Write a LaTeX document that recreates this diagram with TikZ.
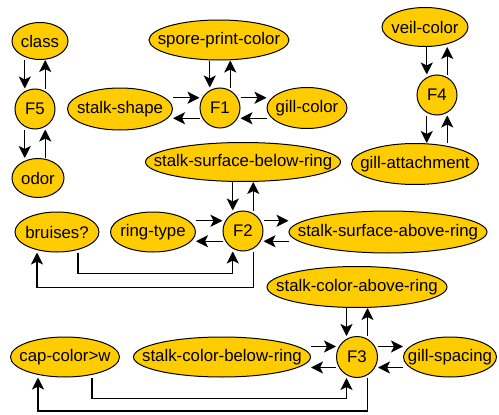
\documentclass[tikz,border=0pt]{standalone}
\usepackage{fontspec}
\setmainfont{Liberation Sans}
\usetikzlibrary{shapes.geometric,arrows.meta}
\definecolor{nodegold}{RGB}{255,204,0}
\tikzset{var node/.style={ellipse,fill=nodegold,draw,line width=1pt,inner sep=0pt,minimum height=40pt,
            execute at begin node={\hbox to 0pt\bgroup\hss},execute at end node={\hss\egroup}},
         factor node/.style={circle,fill=nodegold,draw,line width=1pt,inner sep=0pt,minimum size=40pt},
         link/.style={-{Stealth[length=12pt,width=12pt,inset=3pt]},line width=1.2pt}
}

\begin{document}
\begin{tikzpicture}[x=1pt, y=-1pt,
font=\fontsize{16.8}{19}\selectfont]
\useasboundingbox (0,0) rectangle (499,415);
% variables and factors
\node[var node,minimum width=56pt,minimum height=37pt] (class) at (40,41) {class};
\node[factor node] (F5) at (35,109) {F5};
\node[var node,minimum width=52pt,minimum height=39pt] (odor) at (38,178) {odor};
\node[var node,minimum width=140pt] (spore) at (219,40) {spore-print-color};
\node[var node,minimum width=105pt,minimum height=42pt] (stalkshape) at (120,109) {stalk-shape};
\node[factor node] (F1) at (220,108) {F1};
\node[var node,minimum width=80pt,minimum height=41pt] (gillcolor) at (307,108) {gill-color};
\node[var node,minimum width=86pt,minimum height=39pt] (veil) at (425,27) {veil-color};
\node[factor node] (F4) at (437,95) {F4};
\node[var node,minimum width=127pt,minimum height=41pt] (gillatt) at (415,164) {gill-attachment};
\node[var node,minimum width=195pt,minimum height=39pt] (ssbr) at (243,162) {stalk-surface-below-ring};
\node[var node,minimum width=84pt] (bruises) at (57,232) {bruises?};
\node[var node,minimum width=85pt] (ringtype) at (153,232) {ring-type};
\node[factor node] (F2) at (243,231) {F2};
\node[var node,minimum width=198pt,minimum height=42pt] (ssar) at (388,232) {stalk-surface-above-ring};
\node[var node,minimum width=180pt,minimum height=41pt] (scar) at (357,287) {stalk-color-above-ring};
\node[var node,minimum width=109pt] (capcolor) at (65,357) {cap-color>w};
\node[var node,minimum width=177pt] (scbr) at (222,357) {stalk-color-below-ring};
\node[factor node,minimum size=41pt] (F3) at (357,357) {F3};
\node[var node,minimum width=93pt] (gillspacing) at (450,357) {gill-spacing};

% F5
\draw[link] (class.south -| F5.120) -- (F5.north -| F5.120);
\draw[link] (F5.north -| F5.60) -- (class.south -| F5.60);
\draw[link] (F5.south -| F5.240) -- (odor.north -| F5.240);
\draw[link] (odor.north -| F5.300) -- (F5.south -| F5.300);

% F1
\draw[link] (spore.south -| F1.120) -- (F1.north -| F1.120);
\draw[link] (F1.north -| F1.60) -- (spore.south -| F1.60);
\draw[link] (stalkshape.east |- F1.150) -- (F1.west |- F1.150);
\draw[link] (F1.west |- F1.210) -- (stalkshape.east |- F1.210);
\draw[link] (F1.east |- F1.30) -- (gillcolor.west |- F1.30);
\draw[link] (gillcolor.west |- F1.330) -- (F1.east |- F1.330);

% F4
\draw[link] (veil.south -| F4.120) -- (F4.north -| F4.120);
\draw[link] (F4.north -| F4.60) -- (veil.south -| F4.60);
\draw[link] (F4.south -| F4.240) -- (gillatt.north -| F4.240);
\draw[link] (gillatt.north -| F4.300) -- (F4.south -| F4.300);

% F2
\draw[link] (ssbr.south -| F2.120) -- (F2.north -| F2.120);
\draw[link] (F2.north -| F2.60) -- (ssbr.south -| F2.60);
\draw[link] (ringtype.east |- F2.150) -- (F2.west |- F2.150);
\draw[link] (F2.west |- F2.210) -- (ringtype.east |- F2.210);
\draw[link] (F2.east |- F2.30) -- (ssar.west |- F2.30);
\draw[link] (ssar.west |- F2.330) -- (F2.east |- F2.330);
\draw[link] ([xshift=21pt]bruises.south) -- ++(0,21) -| (F2.south -| F2.240);
\draw[link] (F2.south -| F2.300) -- ++(0,36) -| ([xshift=-20pt]bruises.south);

% F3
\draw[link] (scar.south -| F3.120) -- (F3.north -| F3.120);
\draw[link] (F3.north -| F3.60) -- (scar.south -| F3.60);
\draw[link] (scbr.east |- F3.150) -- (F3.west |- F3.150);
\draw[link] (F3.west |- F3.210) -- (scbr.east |- F3.210);
\draw[link] (F3.east |- F3.30) -- (gillspacing.west |- F3.30);
\draw[link] (gillspacing.west |- F3.330) -- (F3.east |- F3.330);
\draw[link] ([xshift=27pt]capcolor.south) -- ++(0,21) -| (F3.south -| F3.240);
\draw[link] (F3.south -| F3.300) -- ++(0,33) -| ([xshift=-27pt]capcolor.south);

\end{tikzpicture}
\end{document}
